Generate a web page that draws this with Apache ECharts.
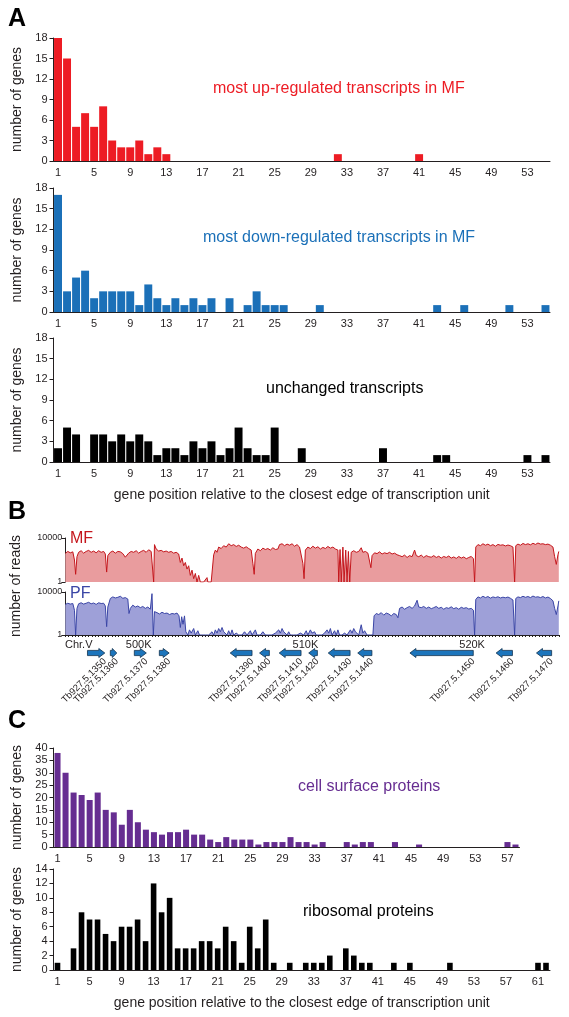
<!DOCTYPE html>
<html><head><meta charset="utf-8">
<script src="https://cdn.jsdelivr.net/npm/echarts@6/dist/echarts.min.js"></script>
<style>html,body{margin:0;padding:0;background:#fff}#c{width:569px;height:1017px}</style>
</head><body><div id="c"></div>
<script>
// ---------- Panel A ----------
const catsA = ['1','2','3','4','5','6','7','8','9','10','11','12','13','14','15','16','17','18','19','20','21','22','23','24','25','26','27','28','29','30','31','32','33','34','35','36','37','38','39','40','41','42','43','44','45','46','47','48','49','50','51','52','53','54','55'];
const upRegulated = [18,15,5,7,5,8,3,2,2,3,1,2,1, 0,0,0,0,0,0,0,0,0,0,0,0,0,0,0,0,0,0, 1, 0,0,0,0,0,0,0,0, 1, 0,0,0,0,0,0,0,0,0,0,0,0,0,0];
const downRegulated = [17,3,5,6,2,3,3,3,3,1,4,2,1,2,1,2,1,2, 0,2,0,1,3,1,1,1, 0,0,0, 1, 0,0,0,0,0,0,0,0,0,0,0,0, 1, 0,0, 1, 0,0,0,0, 1, 0,0,0, 1];
const unchanged = [2,5,4,0,4,4,3,4,3,4,3,1,2,2,1,3,2,3,1,2,5,2,1,1,5, 0,0, 2, 0,0,0,0,0,0,0,0, 2, 0,0,0,0,0, 1,1, 0,0,0,0,0,0,0,0, 1, 0, 1];

// ---------- Panel B ----------
// coverage: [position (kb), number of reads]
const mfCoverage = [
[495.6,400],[495.75,600],[495.9,450],[496.05,550],[496.15,100],[496.22,5],[496.3,200],[496.4,500],[496.55,700],[496.7,420],[496.85,600],[497.0,750],[497.15,500],[497.3,650],[497.45,450],[497.6,700],[497.75,500],[497.9,600],[498.0,350],[498.08,8],[498.15,250],[498.3,500],[498.45,650],[498.6,420],[498.75,600],[498.9,550],[499.05,380],[499.2,180],[499.3,120],[499.4,420],[499.55,600],[499.7,500],[499.85,700],[500.0,420],[500.15,600],[500.3,750],[500.45,500],[500.6,850],[500.75,600],[500.85,750],[500.9,1],[500.95,2500],[501.05,1000],[501.2,650],[501.35,750],[501.5,550],[501.65,650],[501.8,500],[501.95,600],[502.1,420],[502.25,500],[502.4,350],[502.5,60],[502.6,150],[502.7,30],[502.8,60],[502.9,15],[503.0,30],[503.1,4],[503.2,12],[503.3,2],[503.4,6],[503.5,1],[503.6,4],[503.7,1],[503.8,1],[503.9,1],[504.0,1],[504.1,2.5],[504.15,1],[504.25,1],[504.35,1],[504.45,1],
[504.5,300],[504.6,800],[504.7,500],[504.8,1500],[504.95,1100],[505.1,2000],[505.25,1500],[505.4,3000],[505.55,2000],[505.7,2500],[505.85,1700],[506.0,2200],[506.15,1500],[506.3,1200],[506.45,1600],[506.6,1100],[506.75,800],[506.85,50],[506.93,5],[507.0,400],[507.15,1000],[507.3,700],[507.45,1200],[507.6,900],[507.75,1100],[507.9,800],[508.05,1300],[508.2,900],[508.35,1000],[508.45,2500],[508.6,3000],[508.75,2000],[508.9,2800],[509.05,2200],[509.2,3000],[509.35,1800],[509.5,2500],[509.65,1500],[509.75,1200],[509.85,50],[509.92,2],[510.0,800],[510.15,1500],[510.3,1100],[510.45,1800],[510.6,1200],[510.75,1600],[510.9,1000],[511.05,1400],[511.2,1100],[511.35,1700],[511.5,1200],[511.65,1500],[511.8,1000],[511.95,800],[512.0,1],[512.08,900],[512.15,1],[512.25,1500],[512.32,1],[512.42,800],[512.5,1],[512.58,600],[512.66,1],[512.75,500],[512.9,700],[513.05,500],[513.2,600],[513.35,1300],[513.45,500],[513.6,600],[513.75,420],[513.85,350],[513.93,20],[514.0,250],[514.15,450],[514.3,380],[514.45,550],[514.6,350],[514.75,450],[514.9,380],[515.05,500],[515.2,350],[515.35,420],[515.5,300],[515.65,250],[515.8,200],[515.95,280],[516.1,170],[516.25,250],[516.4,200],[516.55,800],[516.65,250],[516.8,200],[516.95,280],[517.1,170],[517.25,250],[517.4,200],[517.55,180],[517.7,250],[517.85,170],[518.0,220],[518.15,150],[518.3,210],[518.45,170],[518.6,230],[518.75,150],[518.9,190],[519.05,140],[519.2,210],[519.35,150],[519.5,190],[519.65,130],[519.8,170],[519.95,210],[520.08,130],[520.15,1],
[520.22,1500],[520.35,2500],[520.5,2000],[520.65,3000],[520.8,2200],[520.95,2800],[521.1,2000],[521.25,2500],[521.4,1800],[521.55,2600],[521.7,2200],[521.85,2400],[522.0,1900],[522.15,2300],[522.3,2000],[522.45,1500],[522.55,1],[522.62,2000],[522.75,2800],[522.9,2200],[523.05,3200],[523.2,2500],[523.35,3000],[523.5,2400],[523.65,3300],[523.8,2600],[523.95,3500],[524.1,2800],[524.25,3000],[524.4,2500],[524.55,2800],[524.7,2200],[524.85,1500],[524.95,200],[525.05,40],[525.15,300],[525.2,600]
];
const pfCoverage = [
[495.6,700],[495.75,900],[495.9,750],[496.05,850],[496.15,200],[496.22,1],[496.3,300],[496.4,800],[496.55,1000],[496.7,750],[496.85,900],[497.0,1100],[497.15,800],[497.3,950],[497.45,700],[497.6,1000],[497.75,850],[497.9,900],[498.0,500],[498.08,6],[498.15,400],[498.3,2500],[498.45,3500],[498.6,2800],[498.75,3200],[498.9,4000],[499.05,2600],[499.2,3000],[499.35,2200],[499.42,100],[499.5,300],[499.65,600],[499.8,400],[499.95,500],[500.1,350],[500.25,450],[500.4,300],[500.55,400],[500.7,250],[500.8,7000],[500.88,1],[500.95,150],[501.1,120],[501.25,90],[501.4,130],[501.55,100],[501.7,110],[501.85,80],[502.0,100],[502.15,90],[502.3,110],[502.42,60],[502.5,5],[502.58,50],[502.66,10],[502.75,60],[502.83,2],[502.95,1],[503.05,3],[503.15,1.5],[503.3,4],[503.4,1],[503.55,2.5],[503.65,1],[503.8,1],[503.9,1.5],[504.0,1],[504.2,1],[504.4,2],[504.5,1],[504.6,3],[504.7,1.5],[504.8,4],[504.9,2],[505.0,5],[505.1,2],[505.2,3],[505.3,1],[505.4,2.5],[505.5,1],[505.6,3],[505.7,1],[505.85,1.5],[506.0,1],[506.2,1],[506.35,2],[506.5,1],[506.7,2.5],[506.8,1],[507.0,3],[507.1,1],[507.3,1],[507.45,2],[507.6,1],[507.8,1],[508.0,1],[508.2,1.5],[508.4,3],[508.5,1.5],[508.6,4],[508.7,2],[508.8,3],[508.9,1],[509.0,2],[509.1,1],[509.3,1],[509.5,1],[509.7,1.5],[509.9,1],[510.05,2.5],[510.15,1],[510.3,3],[510.4,1.5],[510.55,2],[510.65,1],[510.8,1],[511.0,1],[511.15,1.5],[511.3,3],[511.4,1.5],[511.5,4],[511.6,1],[511.75,2.5],[511.85,1],[511.95,3],[512.05,1],[512.2,1],[512.35,1.5],[512.5,1],[512.7,3],[512.8,1.5],[512.9,4],[513.0,2],[513.1,3],[513.2,1],[513.35,9],[513.45,1.5],[513.55,2.5],[513.7,1],[513.9,1],[514.05,1],
[514.12,60],[514.25,100],[514.4,80],[514.55,120],[514.7,70],[514.85,110],[515.0,90],[515.15,60],[515.3,100],[515.45,80],[515.55,40],[515.65,300],[515.8,400],[515.95,250],[516.1,350],[516.25,450],[516.4,300],[516.55,500],[516.7,1700],[516.8,400],[516.95,350],[517.1,450],[517.25,300],[517.4,400],[517.55,280],[517.7,350],[517.85,450],[518.0,300],[518.15,380],[518.3,250],[518.45,350],[518.6,300],[518.75,420],[518.9,280],[519.05,350],[519.2,250],[519.35,380],[519.5,300],[519.65,350],[519.8,260],[519.95,300],[520.08,200],[520.15,1],
[520.22,2000],[520.35,3500],[520.5,2800],[520.65,4000],[520.8,3000],[520.95,3800],[521.1,2700],[521.25,3500],[521.4,3000],[521.55,3600],[521.7,2800],[521.85,3300],[522.0,2900],[522.15,3400],[522.3,2600],[522.45,1800],[522.55,1],[522.62,2500],[522.75,3500],[522.9,3000],[523.05,4000],[523.2,3200],[523.35,3800],[523.5,3000],[523.65,4200],[523.8,3300],[523.95,3600],[524.1,3000],[524.25,3800],[524.4,2800],[524.55,3400],[524.7,2500],[524.85,1500],[524.95,300],[525.05,80],[525.15,500],[525.2,1500]
];
const geneNames = ['Tb927.5.1350','Tb927.5.1360','Tb927.5.1370','Tb927.5.1380','Tb927.5.1390','Tb927.5.1400','Tb927.5.1410','Tb927.5.1420','Tb927.5.1430','Tb927.5.1440','Tb927.5.1450','Tb927.5.1460','Tb927.5.1470'];
const geneStart = [496.93,498.30,499.74,501.24,505.49,507.25,508.43,510.20,511.37,513.14,516.27,521.44,523.86];
const geneEnd   = [497.97,498.69,500.46,501.83,506.80,507.84,509.74,510.72,512.68,513.99,520.07,522.42,524.77];
const geneStrand = [1,1,1,1,-1,-1,-1,-1,-1,-1,-1,-1,-1];
const chromTicks = [500,510,520];

// ---------- Panel C ----------
const catsC1 = ['1','2','3','4','5','6','7','8','9','10','11','12','13','14','15','16','17','18','19','20','21','22','23','24','25','26','27','28','29','30','31','32','33','34','35','36','37','38','39','40','41','42','43','44','45','46','47','48','49','50','51','52','53','54','55','56','57','58'];
const cellSurface = [38,30,22,21,19,22,15,14,9,15,10,7,6,5,6,6,7,5,5,3,2,4,3,3,3,1,2,2,2,4,2, 2,1,2, 0,0, 2,1,2,2, 0,0, 2, 0,0, 1, 0,0,0,0,0,0,0,0,0,0, 2,1];
const catsC2 = ['1','2','3','4','5','6','7','8','9','10','11','12','13','14','15','16','17','18','19','20','21','22','23','24','25','26','27','28','29','30','31','32','33','34','35','36','37','38','39','40','41','42','43','44','45','46','47','48','49','50','51','52','53','54','55','56','57','58','59','60','61','62'];
const ribosomal = [1,0,3,8,7,7,5,4,6,6,7,4,12,8,10,3,3,3,4,4,3,6,4,1,6,3,7,1,0,1,0,1,1,1,2,0,3,2,1,1,0,0,1,0,1,0,0,0,0,1,0,0,0,0,0,0,0,0,0,0,1,1];

const FONT = "'Liberation Sans', Arial, sans-serif";
const INK = '#231f20';
const RED = '#ED1C24', BLUE = '#1B70B8', PURPLE = '#662D91';

function catX(grid, cats, withName){
  return {type:'category', gridIndex:grid, data:cats,
    axisLine:{lineStyle:{color:INK,width:1}},
    axisTick:{interval:0,length:3,lineStyle:{color:INK}},
    axisLabel:{interval:3,color:INK,fontSize:11,fontFamily:FONT,margin:6},
    name: withName ? 'gene position relative to the closest edge of transcription unit' : '',
    nameLocation:'middle', nameGap:26,
    nameTextStyle:{color:INK,fontSize:14,fontFamily:FONT}};
}
function valY(grid, max, step){
  return {type:'value', gridIndex:grid, min:0, max:max, interval:step,
    axisLine:{show:true,lineStyle:{color:INK}},
    axisTick:{show:true,length:4,lineStyle:{color:INK}},
    splitLine:{show:false},
    axisLabel:{color:INK,fontSize:11,fontFamily:FONT,margin:6},
    name:'number of genes', nameLocation:'middle', nameGap:28,
    nameTextStyle:{color:INK,fontSize:14,fontFamily:FONT}};
}
function covX(grid, show){
  const ticks = [];
  for (let v = 495.6; v <= 525.21; v += 0.2) ticks.push(+v.toFixed(1));
  return {type:'value', gridIndex:grid, min:495.6, max:525.2,
    axisLine:{show:show,onZero:false,lineStyle:{color:INK}},
    axisTick:{show:show,length:2,customValues:ticks,lineStyle:{color:INK}},
    axisLabel:{show:show,customValues:chromTicks,formatter:v=>v+'K',color:INK,fontSize:11,fontFamily:FONT,margin:4},
    splitLine:{show:false}};
}
function covY(grid){
  return {type:'log', gridIndex:grid, min:1, max:10000, logBase:10,
    axisLine:{show:true,lineStyle:{color:INK}},
    axisTick:{show:true,length:4,customValues:[1,10000],lineStyle:{color:INK}},
    axisLabel:{customValues:[1,10000],formatter:v=>String(Math.round(v)),color:INK,fontSize:9,fontFamily:FONT,margin:3},
    splitLine:{show:false}};
}

const option = {
  animation:false,
  grid:[
    {left:53.5,top:38,width:496.5,height:123},
    {left:53.5,top:188,width:496.5,height:124},
    {left:53.5,top:338,width:496.5,height:124},
    {left:65.3,top:538,width:493.5,height:44},
    {left:65.3,top:592,width:493.5,height:43},
    {left:65.3,top:645,width:493.5,height:16},
    {left:53.5,top:748,width:466,height:99},
    {left:53.5,top:869,width:496.5,height:101}
  ],
  xAxis:[
    catX(0,catsA,false), catX(1,catsA,false), catX(2,catsA,true),
    covX(3,false), covX(4,true), covX(5,false),
    catX(6,catsC1,false), catX(7,catsC2,true)
  ],
  yAxis:[
    valY(0,18,3), valY(1,18,3), valY(2,18,3),
    covY(3), covY(4),
    {type:'value',gridIndex:5,min:0,max:1,show:false},
    valY(6,40,5), valY(7,14,2)
  ],
  series:[
    {type:'bar',xAxisIndex:0,yAxisIndex:0,data:upRegulated,barCategoryGap:'12%',itemStyle:{color:RED}},
    {type:'bar',xAxisIndex:1,yAxisIndex:1,data:downRegulated,barCategoryGap:'12%',itemStyle:{color:BLUE}},
    {type:'bar',xAxisIndex:2,yAxisIndex:2,data:unchanged,barCategoryGap:'12%',itemStyle:{color:'#000'}},
    {type:'line',xAxisIndex:3,yAxisIndex:3,data:mfCoverage,symbol:'none',
      lineStyle:{color:'#C4161C',width:1},areaStyle:{color:'#E99C9E',opacity:1,origin:'start'}},
    {type:'line',xAxisIndex:4,yAxisIndex:4,data:pfCoverage,symbol:'none',
      lineStyle:{color:'#3B46A6',width:1},areaStyle:{color:'#9EA0D8',opacity:1,origin:'start'}},
    {type:'custom',xAxisIndex:5,yAxisIndex:5,
      data:geneStart.map((s,i)=>[s,geneEnd[i],geneStrand[i]]),
      renderItem:function(params,api){
        const p0 = api.coord([api.value(0),0.5]), p1 = api.coord([api.value(1),0.5]);
        const dir = api.value(2), y = p0[1], x0 = p0[0], x1 = p1[0];
        const bh = 2.6, hh = 4.5, hl = Math.min(6,(x1-x0)*0.7);
        let pts;
        if (dir>0) pts = [[x0,y-bh],[x1-hl,y-bh],[x1-hl,y-hh],[x1,y],[x1-hl,y+hh],[x1-hl,y+bh],[x0,y+bh]];
        else pts = [[x1,y-bh],[x0+hl,y-bh],[x0+hl,y-hh],[x0,y],[x0+hl,y+hh],[x0+hl,y+bh],[x1,y+bh]];
        return {type:'group',children:[
          {type:'polygon',shape:{points:pts},style:{fill:'#1C75BC',stroke:'#12324f',lineWidth:0.8}},
          {type:'text',x:x1,y:y+7,rotation:Math.PI/4,
            style:{text:geneNames[params.dataIndex],align:'right',verticalAlign:'middle',fontSize:9.5,fontFamily:FONT,fill:INK}}
        ]};
      }},
    {type:'bar',xAxisIndex:6,yAxisIndex:6,data:cellSurface,barCategoryGap:'25%',itemStyle:{color:PURPLE}},
    {type:'bar',xAxisIndex:7,yAxisIndex:7,data:ribosomal,barCategoryGap:'30%',itemStyle:{color:'#000'}}
  ],
  graphic:[
    {type:'text',left:8,top:7,style:{text:'A',fontSize:25,fontWeight:'bold',fontFamily:FONT,fill:'#000'}},
    {type:'text',left:8,top:500,style:{text:'B',fontSize:25,fontWeight:'bold',fontFamily:FONT,fill:'#000'}},
    {type:'text',left:8,top:709,style:{text:'C',fontSize:25,fontWeight:'bold',fontFamily:FONT,fill:'#000'}},
    {type:'text',left:213,top:81,style:{text:'most up-regulated transcripts in MF',fontSize:16,fontFamily:FONT,fill:RED}},
    {type:'text',left:203,top:230,style:{text:'most down-regulated transcripts in MF',fontSize:16,fontFamily:FONT,fill:BLUE}},
    {type:'text',left:266,top:381,style:{text:'unchanged transcripts',fontSize:16,fontFamily:FONT,fill:'#000'}},
    {type:'text',left:298,top:779,style:{text:'cell surface proteins',fontSize:16,fontFamily:FONT,fill:PURPLE}},
    {type:'text',left:303,top:904,style:{text:'ribosomal proteins',fontSize:16,fontFamily:FONT,fill:'#000'}},
    {type:'text',left:70,top:531,style:{text:'MF',fontSize:16,fontFamily:FONT,fill:'#C4161C'}},
    {type:'text',left:70,top:586,style:{text:'PF',fontSize:16,fontFamily:FONT,fill:'#3B46A6'}},
    {type:'text',left:65,top:639,style:{text:'Chr.V',fontSize:11,fontFamily:FONT,fill:INK}},
    {type:'text',x:16,y:586,rotation:Math.PI/2,style:{text:'number of reads',align:'center',verticalAlign:'middle',fontSize:14,fontFamily:FONT,fill:INK}}
  ]
};
const chart = echarts.init(document.getElementById('c'),null,{renderer:'canvas'});
chart.setOption(option);
</script></body></html>
